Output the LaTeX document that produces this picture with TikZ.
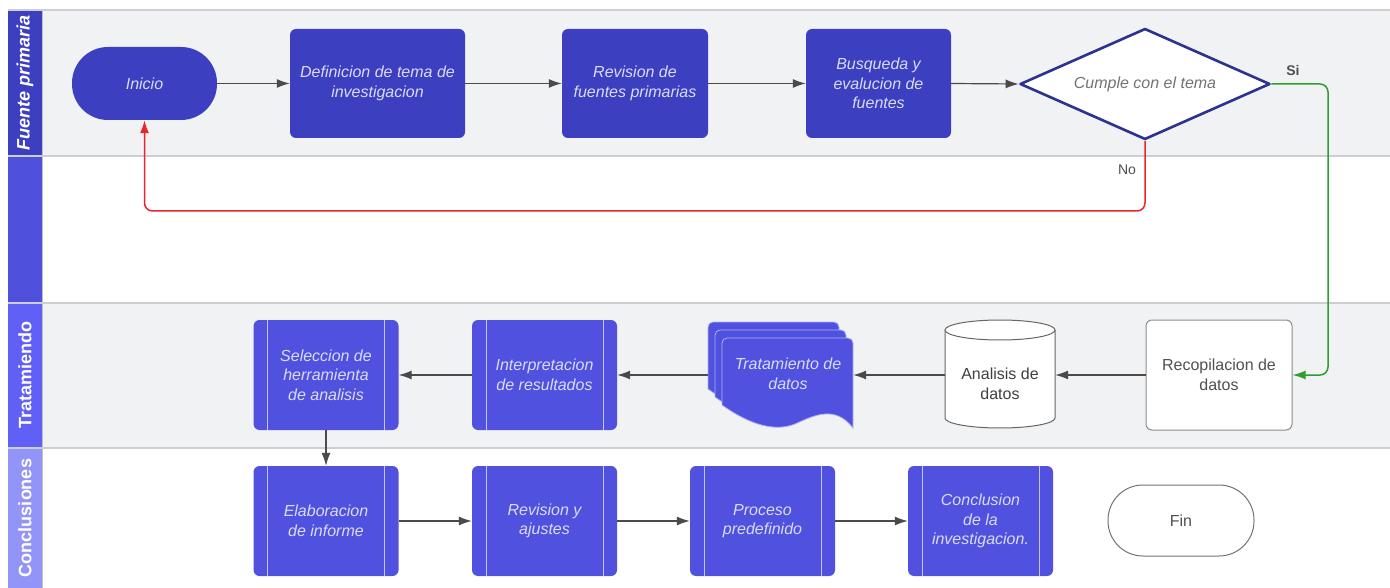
\documentclass[tikz,border=0pt]{standalone}
\usepackage{fontspec}
\setmainfont{Liberation Sans}
\usetikzlibrary{arrows.meta,shapes.geometric}
\definecolor{boxdark}{HTML}{3C40C0}
\definecolor{boxmid}{HTML}{5052DF}
\definecolor{lanegray}{HTML}{F1F2F4}
\definecolor{sepgray}{HTML}{CDCED1}
\definecolor{labA}{HTML}{3C40C0}
\definecolor{labB}{HTML}{4F51DD}
\definecolor{labC}{HTML}{6060F6}
\definecolor{labD}{HTML}{9394F7}
\definecolor{boxtext}{HTML}{DADBF5}
\definecolor{linegray}{HTML}{4A4A4A}
\definecolor{darktext}{HTML}{505050}
\definecolor{diaborder}{HTML}{2D3190}
\definecolor{redline}{HTML}{E8262B}
\definecolor{greenline}{HTML}{2E9E2E}
\definecolor{predefline}{HTML}{C4C5F7}
\begin{document}
\begin{tikzpicture}[x=1pt,y=-1pt,
  boxtxt/.style={font=\fontsize{16}{19.5}\selectfont\itshape, text=boxtext, align=center, inner sep=0pt},
  plaintxt/.style={font=\fontsize{16}{19.5}\selectfont, text=darktext, align=center, inner sep=0pt},
  topbox/.style={boxtxt, fill=boxdark, rounded corners=6pt, minimum height=109pt},
  predef/.style={boxtxt, fill=boxmid, rounded corners=6pt, minimum width=145pt, minimum height=110pt,
    path picture={
      \draw[predefline, line width=0.9pt] ([xshift=14pt]path picture bounding box.north west) -- ([xshift=14pt]path picture bounding box.south west);
      \draw[predefline, line width=0.9pt] ([xshift=-14pt]path picture bounding box.north east) -- ([xshift=-14pt]path picture bounding box.south east);}},
  lanelabel/.style={font=\fontsize{18}{20}\selectfont\bfseries, text=white, rotate=90, inner sep=0pt},
  arr/.style={draw=linegray, line width=1.2pt, -{Latex[length=13pt,width=9pt]}},
  sep/.style={draw=sepgray, line width=2.5pt},
  doclayer/.style={fill=boxmid, draw=white!55!boxmid, line width=0.8pt},
  cyl/.style={draw=black!60, line width=1pt, fill=white},
  edgelabel/.style={font=\fontsize{14}{16}\selectfont, text=darktext, inner sep=0pt}
]
\useasboundingbox (0,0) rectangle (1390,588);
\fill[white] (0,0) rectangle (1390,588);
% lanes
\fill[lanegray] (42,10) rectangle (1390,156);
\fill[lanegray] (42,303) rectangle (1390,448);
\fill[labA] (8,10) rectangle (42,156);
\fill[labB] (8,156) rectangle (42,303);
\fill[labC] (8,303) rectangle (42,448);
\fill[labD] (8,448) rectangle (42,588);
\draw[black!25, line width=1pt] (42,10) -- (42,588);
\draw[sep] (8,10) -- (1390,10);
\draw[sep] (8,156) -- (1390,156);
\draw[sep] (8,303) -- (1390,303);
\draw[sep] (8,448) -- (1390,448);
\node[lanelabel, font=\fontsize{18}{20}\selectfont\bfseries\itshape] (lab1) at (25,83) {Fuente primaria};
\node[lanelabel] (lab3) at (25,375) {Tratamiendo};
\node[lanelabel] (lab4) at (25,518) {Conclusiones};

% row 1
\node[boxtxt, fill=boxdark, rounded corners=36pt, minimum width=145pt, minimum height=73pt] (ini) at (144.5,83.5) {Inicio};
\node[topbox, minimum width=175pt] (def) at (377.5,83.5) {Definicion de tema de\\investigacion};
\node[topbox, minimum width=146pt] (rev) at (635,83.5) {Revision de\\fuentes primarias};
\node[topbox, minimum width=145pt] (bus) at (878.5,83.5) {Busqueda y\\evalucion de\\fuentes};
\node[diamond, aspect=2.25, draw=diaborder, line width=2.6pt, line join=round, fill=white,
      minimum width=250pt, minimum height=111pt, inner sep=0pt,
      font=\fontsize{16}{19.5}\selectfont\itshape, text=black!55] (dia) at (1145,84) {Cumple con el tema};

% row 3
\node[plaintxt, fill=white, draw=black!45, line width=1pt, rounded corners=6pt, minimum width=146pt, minimum height=110pt] (rec) at (1219,375) {Recopilacion de\\datos};
% cylinder
\filldraw[cyl] (945,330) -- (945,418) .. controls (945,423.5) and (969.6,428) .. (1000,428) .. controls (1030.4,428) and (1055,423.5) .. (1055,418) -- (1055,330);
\draw[cyl] (1000,330) ellipse [x radius=55, y radius=10];
\node[plaintxt, text=black!75, minimum width=110pt, minimum height=108pt] (ana) at (1000,384) {Analisis de\\datos};
% multi document
\path[doclayer] (708,389) [rounded corners=5pt] -- (708,322) -- (839,322) [sharp corners] -- (839,412) .. controls (821,389) and (801,399) .. (781,408) .. controls (761,416) and (736,409) .. (708,389) -- cycle;
\path[doclayer] (715,397) [rounded corners=5pt] -- (715,330) -- (846,330) [sharp corners] -- (846,420) .. controls (828,397) and (808,407) .. (788,416) .. controls (768,424) and (743,417) .. (715,397) -- cycle;
\path[doclayer] (722,405) [rounded corners=5pt] -- (722,338) -- (853,338) [sharp corners] -- (853,428) .. controls (835,405) and (815,415) .. (795,424) .. controls (775,432) and (750,425) .. (722,405) -- cycle;
\node[minimum width=145pt, minimum height=106pt, inner sep=0pt] (trat) at (780.5,375) {};
\node[boxtxt] (tratTxt) at (788,374) {Tratamiento de\\datos};
\node[predef] (intp) at (544.5,375) {Interpretacion\\de resultados};
\node[predef] (sel) at (326,375) {Seleccion de\\herramienta\\de analisis};

% row 4
\node[predef] (ela) at (326,521) {Elaboracion\\de informe};
\node[predef] (rya) at (544.5,521) {Revision y\\ajustes};
\node[predef] (pro) at (762.5,521) {Proceso\\predefinido};
\node[predef] (con) at (980.5,521) {Conclusion\\de la\\investigacion.};
\node[plaintxt, fill=white, draw=black!55, line width=1pt, rounded corners=35pt, minimum width=146pt, minimum height=71pt] (fin) at (1181,520.5) {Fin};

% connectors
\draw[arr] (ini.east) -- (def.west);
\draw[arr] (def.east) -- (rev.west);
\draw[arr] (rev.east) -- (bus.west);
\draw[arr] (bus.east) -- (dia.west);
\coordinate (redY) at (0,211);
\coordinate (greenX) at (1328,0);
\draw[draw=redline, line width=1.5pt, rounded corners=8pt, -{Latex[length=13pt,width=9pt]}]
  (dia.south) -- (dia.south |- redY) -| (ini.south);
\draw[draw=greenline, line width=1.5pt, rounded corners=8pt, -{Latex[length=13pt,width=9pt]}]
  (dia.east) -- (greenX |- dia.east) |- (rec.east);
\node[edgelabel] (noLbl) at (1127,170) {No};
\node[edgelabel, font=\fontsize{14}{16}\selectfont\bfseries] (siLbl) at (1293,70) {Si};
\draw[arr] (rec.west) -- (rec.west -| ana.east);
\draw[arr] (rec.west -| ana.west) -- (trat.east);
\draw[arr] (trat.west) -- (intp.east);
\draw[arr] (intp.west) -- (sel.east);
\draw[arr] (sel.south) -- (ela.north);
\draw[arr] (ela.east) -- (rya.west);
\draw[arr] (rya.east) -- (pro.west);
\draw[arr] (pro.east) -- (con.west);
\end{tikzpicture}
\end{document}
